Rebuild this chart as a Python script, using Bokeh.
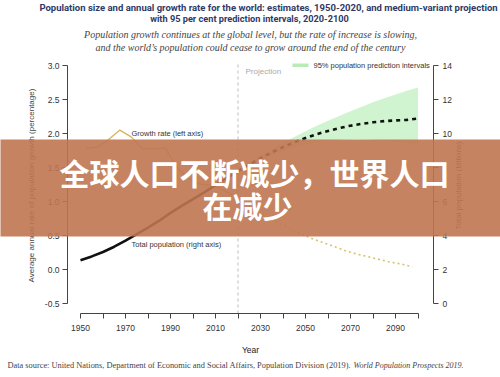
from bokeh.plotting import figure
from bokeh.models import Range1d, LinearAxis, FixedTicker, Label, BoxAnnotation, ColumnDataSource
from bokeh.embed import file_html
from bokeh.resources import INLINE

# ---------------- data ----------------
est_years = [1950, 1955, 1960, 1965, 1970, 1975, 1980, 1985, 1990, 1995, 2000, 2005, 2010, 2015, 2020]
est_pop = [2.54, 2.77, 3.03, 3.34, 3.70, 4.08, 4.46, 4.87, 5.33, 5.74, 6.14, 6.54, 6.96, 7.38, 7.79]

proj_years = [2020, 2025, 2030, 2035, 2040, 2045, 2050, 2055, 2060, 2065, 2070, 2075, 2080, 2085, 2090, 2095, 2100]
proj_pop = [7.79, 8.18, 8.55, 8.89, 9.20, 9.48, 9.73, 9.96, 10.15, 10.32, 10.46, 10.57, 10.66, 10.73, 10.77, 10.80, 10.88]
pi_low = [7.79, 8.15, 8.45, 8.72, 8.97, 9.17, 9.35, 9.48, 9.57, 9.63, 9.66, 9.66, 9.63, 9.58, 9.52, 9.45, 9.38]
pi_high = [7.80, 8.22, 8.65, 9.05, 9.44, 9.80, 10.13, 10.45, 10.75, 11.03, 11.31, 11.58, 11.84, 12.08, 12.30, 12.51, 12.70]

rate_est_years = [1952.5, 1957.5, 1962.5, 1967.5, 1972.5, 1977.5, 1982.5, 1987.5, 1992.5, 1997.5, 2002.5, 2007.5, 2012.5, 2017.5]
rate_est = [1.78, 1.80, 1.91, 2.05, 1.95, 1.78, 1.77, 1.79, 1.52, 1.35, 1.26, 1.24, 1.19, 1.09]
rate_proj_years = [2017.5, 2022.5, 2027.5, 2032.5, 2037.5, 2042.5, 2047.5, 2052.5, 2057.5, 2062.5, 2067.5,
                   2072.5, 2077.5, 2082.5, 2087.5, 2092.5, 2097.5]
rate_proj = [1.09, 0.98, 0.87, 0.78, 0.69, 0.61, 0.53, 0.46, 0.40, 0.34, 0.28, 0.23, 0.19, 0.15, 0.11, 0.08, 0.04]

projection_start = 2020
x_ticks = list(range(1950, 2101, 10))
x_tick_labels = ["1950", "", "1970", "", "1990", "", "2010", "", "2030", "", "2050", "", "2070", "", "2090", ""]
left_ticks = [-0.5, 0.0, 0.5, 1.0, 1.5, 2.0, 2.5, 3.0]
left_tick_labels = ["-0.5", "0.0", "0.5", "1.0", "1.5", "2.0", "2.5", "3.0"]
right_ticks = [0, 2, 4, 6, 8, 10, 12, 14]

# ------------- page-pixel -> data helpers (layout / text placement only) -------------
def yr(px):
    return 1950 + (px - 80.0) * 150.0 / 337.5

def rt(py):
    return -0.5 + (303.0 - py) * 3.5 / 238.0

def pp(py):
    return (303.0 - py) * 14.0 / 238.0

W, H = 500, 377
p = figure(width=W, height=H, output_backend="svg", toolbar_location=None,
           x_range=Range1d(yr(0), yr(W)), y_range=Range1d(rt(H), rt(0)),
           min_border=0, x_axis_location=None, y_axis_location=None)
p.extra_y_ranges = {"pop": Range1d(pp(H), pp(0))}
p.outline_line_color = None
p.grid.visible = False
p.background_fill_color = "white"
p.border_fill_color = "white"

AX = "#444444"
TICKC = "#333333"

def style_axis(ax):
    ax.axis_line_color = AX
    ax.major_tick_line_color = AX
    ax.minor_tick_line_color = None
    ax.major_tick_in = 0
    ax.major_tick_out = 5
    ax.major_label_text_font = "Liberation Sans"
    ax.major_label_text_font_size = "8.5px"
    ax.major_label_text_color = TICKC

xa = LinearAxis(fixed_location=rt(313))
style_axis(xa)
xa.ticker = FixedTicker(ticks=x_ticks)
xa.major_label_overrides = {t: l for t, l in zip(x_ticks, x_tick_labels)}
xa.bounds = (x_ticks[0], x_ticks[-1])
xa.major_label_standoff = 6
p.add_layout(xa, "below")

ya = LinearAxis(fixed_location=yr(67))
style_axis(ya)
ya.ticker = FixedTicker(ticks=left_ticks)
ya.major_label_overrides = {t: l for t, l in zip(left_ticks, left_tick_labels)}
ya.bounds = (left_ticks[0], left_ticks[-1])
ya.major_label_standoff = 3
p.add_layout(ya, "left")

ra = LinearAxis(y_range_name="pop", fixed_location=yr(433))
style_axis(ra)
ra.ticker = FixedTicker(ticks=right_ticks)
ra.bounds = (right_ticks[0], right_ticks[-1])
ra.major_label_standoff = 4
p.add_layout(ra, "right")

# ------------- marks -------------
band = ColumnDataSource(dict(x=proj_years, lo=pi_low, hi=pi_high))
p.varea(x="x", y1="lo", y2="hi", source=band, y_range_name="pop", fill_color="#c8f2c8", fill_alpha=0.85)

p.line(rate_est_years, rate_est, line_color="#d8b45c", line_width=1.3)
p.line(rate_proj_years, rate_proj, line_color="#d6c270", line_width=1.6, line_dash="2 3")

p.line(est_years, est_pop, y_range_name="pop", line_color="#111111", line_width=2.6)
p.line(proj_years, proj_pop, y_range_name="pop", line_color="#111111", line_width=2.6, line_dash="4 4")

# projection divider (dashed, from top of plot region to x axis)
p.segment(x0=[projection_start], y0=[rt(313)], x1=[projection_start], y1=[rt(62)],
          line_color="#bbbbbb", line_dash="3 3", line_width=1)

# ------------- texts -------------
def lab(text, px, py, size, color="#333333", font="Liberation Sans", style="normal", align="left", angle=0):
    p.add_layout(Label(x=yr(px), y=rt(py), text=text, text_font=font, text_font_size=size,
                       text_font_style=style, text_color=color, text_align=align, text_baseline="middle",
                       angle=angle, angle_units="deg"))

TITLE = "#2f3a66"
lab("Population size and annual growth rate for the world: estimates, 1950-2020, and medium-variant projection",
    268, 6.5, "9.5px", TITLE, "Roboto", "bold", "center")
lab("with 95 per cent prediction intervals, 2020-2100", 249, 17.5, "9.2px", TITLE, "Roboto", "bold", "center")
lab("Population growth continues at the global level, but the rate of increase is slowing,",
    250, 33.5, "10px", "#444444", "Liberation Serif", "italic", "center")
lab("and the world\u2019s population could cease to grow around the end of the century",
    250, 47, "10px", "#444444", "Liberation Serif", "italic", "center")

lab("Projection", 245, 71, "8px", "#aaaaaa")
lab("95% population prediction intervals", 313, 64.5, "7.5px", "#333333")
lab("Growth rate (left axis)", 131, 133, "7.5px", "#333333")
lab("Total population (right axis)", 131, 244, "7.5px", "#333333")

# legend swatch for band
p.add_layout(BoxAnnotation(left=yr(292), right=yr(308), top=rt(63), bottom=rt(66.5),
                           fill_color="#b8ebb8", fill_alpha=1, line_color=None))

# axis titles
lab("Average annual rate of population growth (percentage)", 31, 185, "8px", "#444444", align="center", angle=90)
lab("Total population (billions)", 458, 185, "8px", "#444444", align="center", angle=90)
lab("Year", 250, 349, "8.5px", "#222222", align="center")

lab("Data source: United Nations, Department of Economic and Social Affairs, Population Division (2019).",
    7, 365, "8.35px", "#444444", "Liberation Serif")
lab("World Population Prospects 2019.", 353, 365, "8px", "#444444", "Liberation Serif", "italic")

# ------------- banner overlay -------------
p.add_layout(BoxAnnotation(left=yr(-20), right=yr(520), top=rt(139), bottom=rt(236),
                           fill_color="#bf7550", fill_alpha=0.9, line_color=None))
lab("\u5168\u7403\u4eba\u53e3\u4e0d\u65ad\u51cf\u5c11\uff0c\u4e16\u754c\u4eba\u53e3", 254, 171, "30px",
    "#ffffff", "Noto Sans CJK SC", "bold", "center")
lab("\u5728\u51cf\u5c11", 247, 204, "30px", "#ffffff", "Noto Sans CJK SC", "bold", "center")

open("out.html", "w").write(file_html(p, INLINE))
